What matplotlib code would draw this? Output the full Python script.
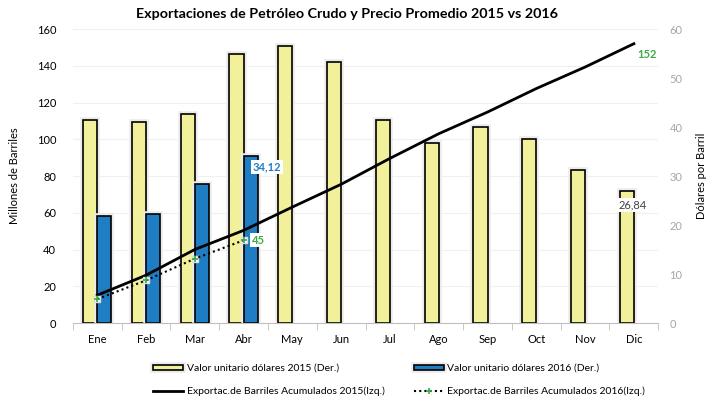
import matplotlib
matplotlib.use("Agg")
import matplotlib.pyplot as plt
import matplotlib.patheffects as pe
import numpy as np

plt.rcParams['font.family'] = ['Lato', 'DejaVu Sans']

months = ["Ene", "Feb", "Mar", "Abr", "May", "Jun", "Jul", "Ago", "Sep", "Oct", "Nov", "Dic"]
price_2015 = [41.4, 41.1, 42.7, 54.8, 56.5, 53.2, 41.5, 36.7, 40.1, 37.6, 31.2, 26.84]
price_2016 = [21.8, 22.2, 28.3, 34.12]
cum_2015 = [15.1, 26.0, 40.0, 50.4, 63.1, 75.5, 89.6, 103.0, 114.8, 127.6, 139.3, 152.0]
cum_2016 = [13.0, 23.2, 35.0, 45.0]

title = "Exportaciones de Petróleo Crudo y Precio Promedio 2015 vs 2016"
lbl_bar15 = "Valor unitario dólares 2015 (Der.)"
lbl_bar16 = "Valor unitario dólares 2016 (Der.)"
lbl_line15 = "Exportac.de Barriles Acumulados 2015(Izq.)"
lbl_line16 = "Exportac.de Barriles Acumulados 2016(Izq.)"

yellow = "#F3F09B"
blue = "#1F7EC3"
green = "#3AAA4A"

fig = plt.figure(figsize=(7.21, 4.03), dpi=100)
ax1 = fig.add_axes([0.101, 0.1985, 0.812, 0.7295])
ax2 = ax1.twinx()

x = np.arange(len(months))
w = 0.29
glow = [pe.Stroke(linewidth=4, foreground="#ebebeb"), pe.Normal()]

# bars on right axis
b15 = ax2.bar(x - w / 2, price_2015, width=w, color=yellow, edgecolor="black", linewidth=1.2, zorder=3)
b16 = ax2.bar(x[:len(price_2016)] + w / 2, price_2016, width=w, color=blue, edgecolor="black", linewidth=1.2, zorder=3)
for b in list(b15) + list(b16):
    b.set_path_effects(glow)

ax2.set_ylim(0, 60)
ax2.set_yticks(np.arange(0, 61, 10))
ax2.tick_params(axis='y', colors="#a6a6a6", labelsize=8, length=0, pad=8)
ax2.set_ylabel("Dólares por Barril", fontsize=8, labelpad=10)

# left axis
ax1.set_ylim(0, 160)
ax1.set_yticks(np.arange(0, 161, 20))
ax1.tick_params(axis='y', labelsize=8, length=0, pad=12)
ax1.set_ylabel("Millones de Barriles", fontsize=8, labelpad=12)
ax1.set_xlim(-0.5, len(months) - 0.5)
ax1.set_xticks(x)
ax1.set_xticklabels(months, fontsize=8)
ax1.tick_params(axis='x', which='major', length=0, pad=8)
ax1.set_xticks(np.arange(-0.5, len(months), 1), minor=True)
ax1.tick_params(axis='x', which='minor', length=5, color="#bfbfbf", direction='out')

# gridlines behind bars
for v in ax1.get_yticks()[1:]:
    ax2.axhline(v * 60 / 160, color="#f0f0f0", linewidth=0.8, zorder=0)

for s in ["top", "left", "right"]:
    ax1.spines[s].set_visible(False)
    ax2.spines[s].set_visible(False)
ax1.spines["bottom"].set_color("#bfbfbf")
ax2.spines["bottom"].set_visible(False)

ax1.set_zorder(ax2.get_zorder() + 1)
ax1.patch.set_visible(False)

# lines on left axis
l15, = ax1.plot(x, cum_2015, color="black", linewidth=2, zorder=5)
x16 = x[:len(cum_2016)]
ax1.plot(x16, cum_2016, linestyle="none", marker="s", markersize=5, mfc="white", mec="#dddddd", zorder=5)
l16, = ax1.plot(x16, cum_2016, color="black", linestyle=(0, (1, 1.5)), linewidth=1.5,
                marker="+", markersize=5, mec=green, mew=1.2, zorder=6)

# data labels
box = dict(boxstyle="square,pad=0.15", fc="white", ec="none")
ax2.annotate("34,12", (x[3] + w / 2, price_2016[3]), xytext=(12, -8), textcoords="offset points",
             ha="center", va="center", fontsize=8, fontweight="bold", color=blue, bbox=box, zorder=10)
ax1.annotate("45", (x[3], cum_2016[3]), xytext=(10.5, 0), textcoords="offset points",
             ha="center", va="center", fontsize=8, fontweight="bold", color=green, bbox=box, zorder=10)
ax1.annotate("152", (x[11], cum_2015[11]), xytext=(9.5, -8), textcoords="offset points",
             ha="center", va="center", fontsize=8, fontweight="bold", color=green, bbox=box, zorder=10)
ax2.annotate("26,84", (x[11] - w / 2, price_2015[11]), xytext=(4.5, -9.5), textcoords="offset points",
             ha="center", va="center", fontsize=8, color="#404040", bbox=box, zorder=10)

fig.text(0.481, 0.965, title, ha="center", va="center", fontsize=10.3, fontweight="bold")

fig.legend([b15, l15, b16, l16], [lbl_bar15, lbl_line15, lbl_bar16, lbl_line16],
           ncol=2, loc="center", bbox_to_anchor=(399 / 721, 1 - 380 / 403), frameon=False,
           fontsize=7.5, handlelength=2.9, handleheight=0.35, columnspacing=2.8, labelspacing=1.3,
           handletextpad=0.3)

fig.savefig("out.png", dpi=100)
